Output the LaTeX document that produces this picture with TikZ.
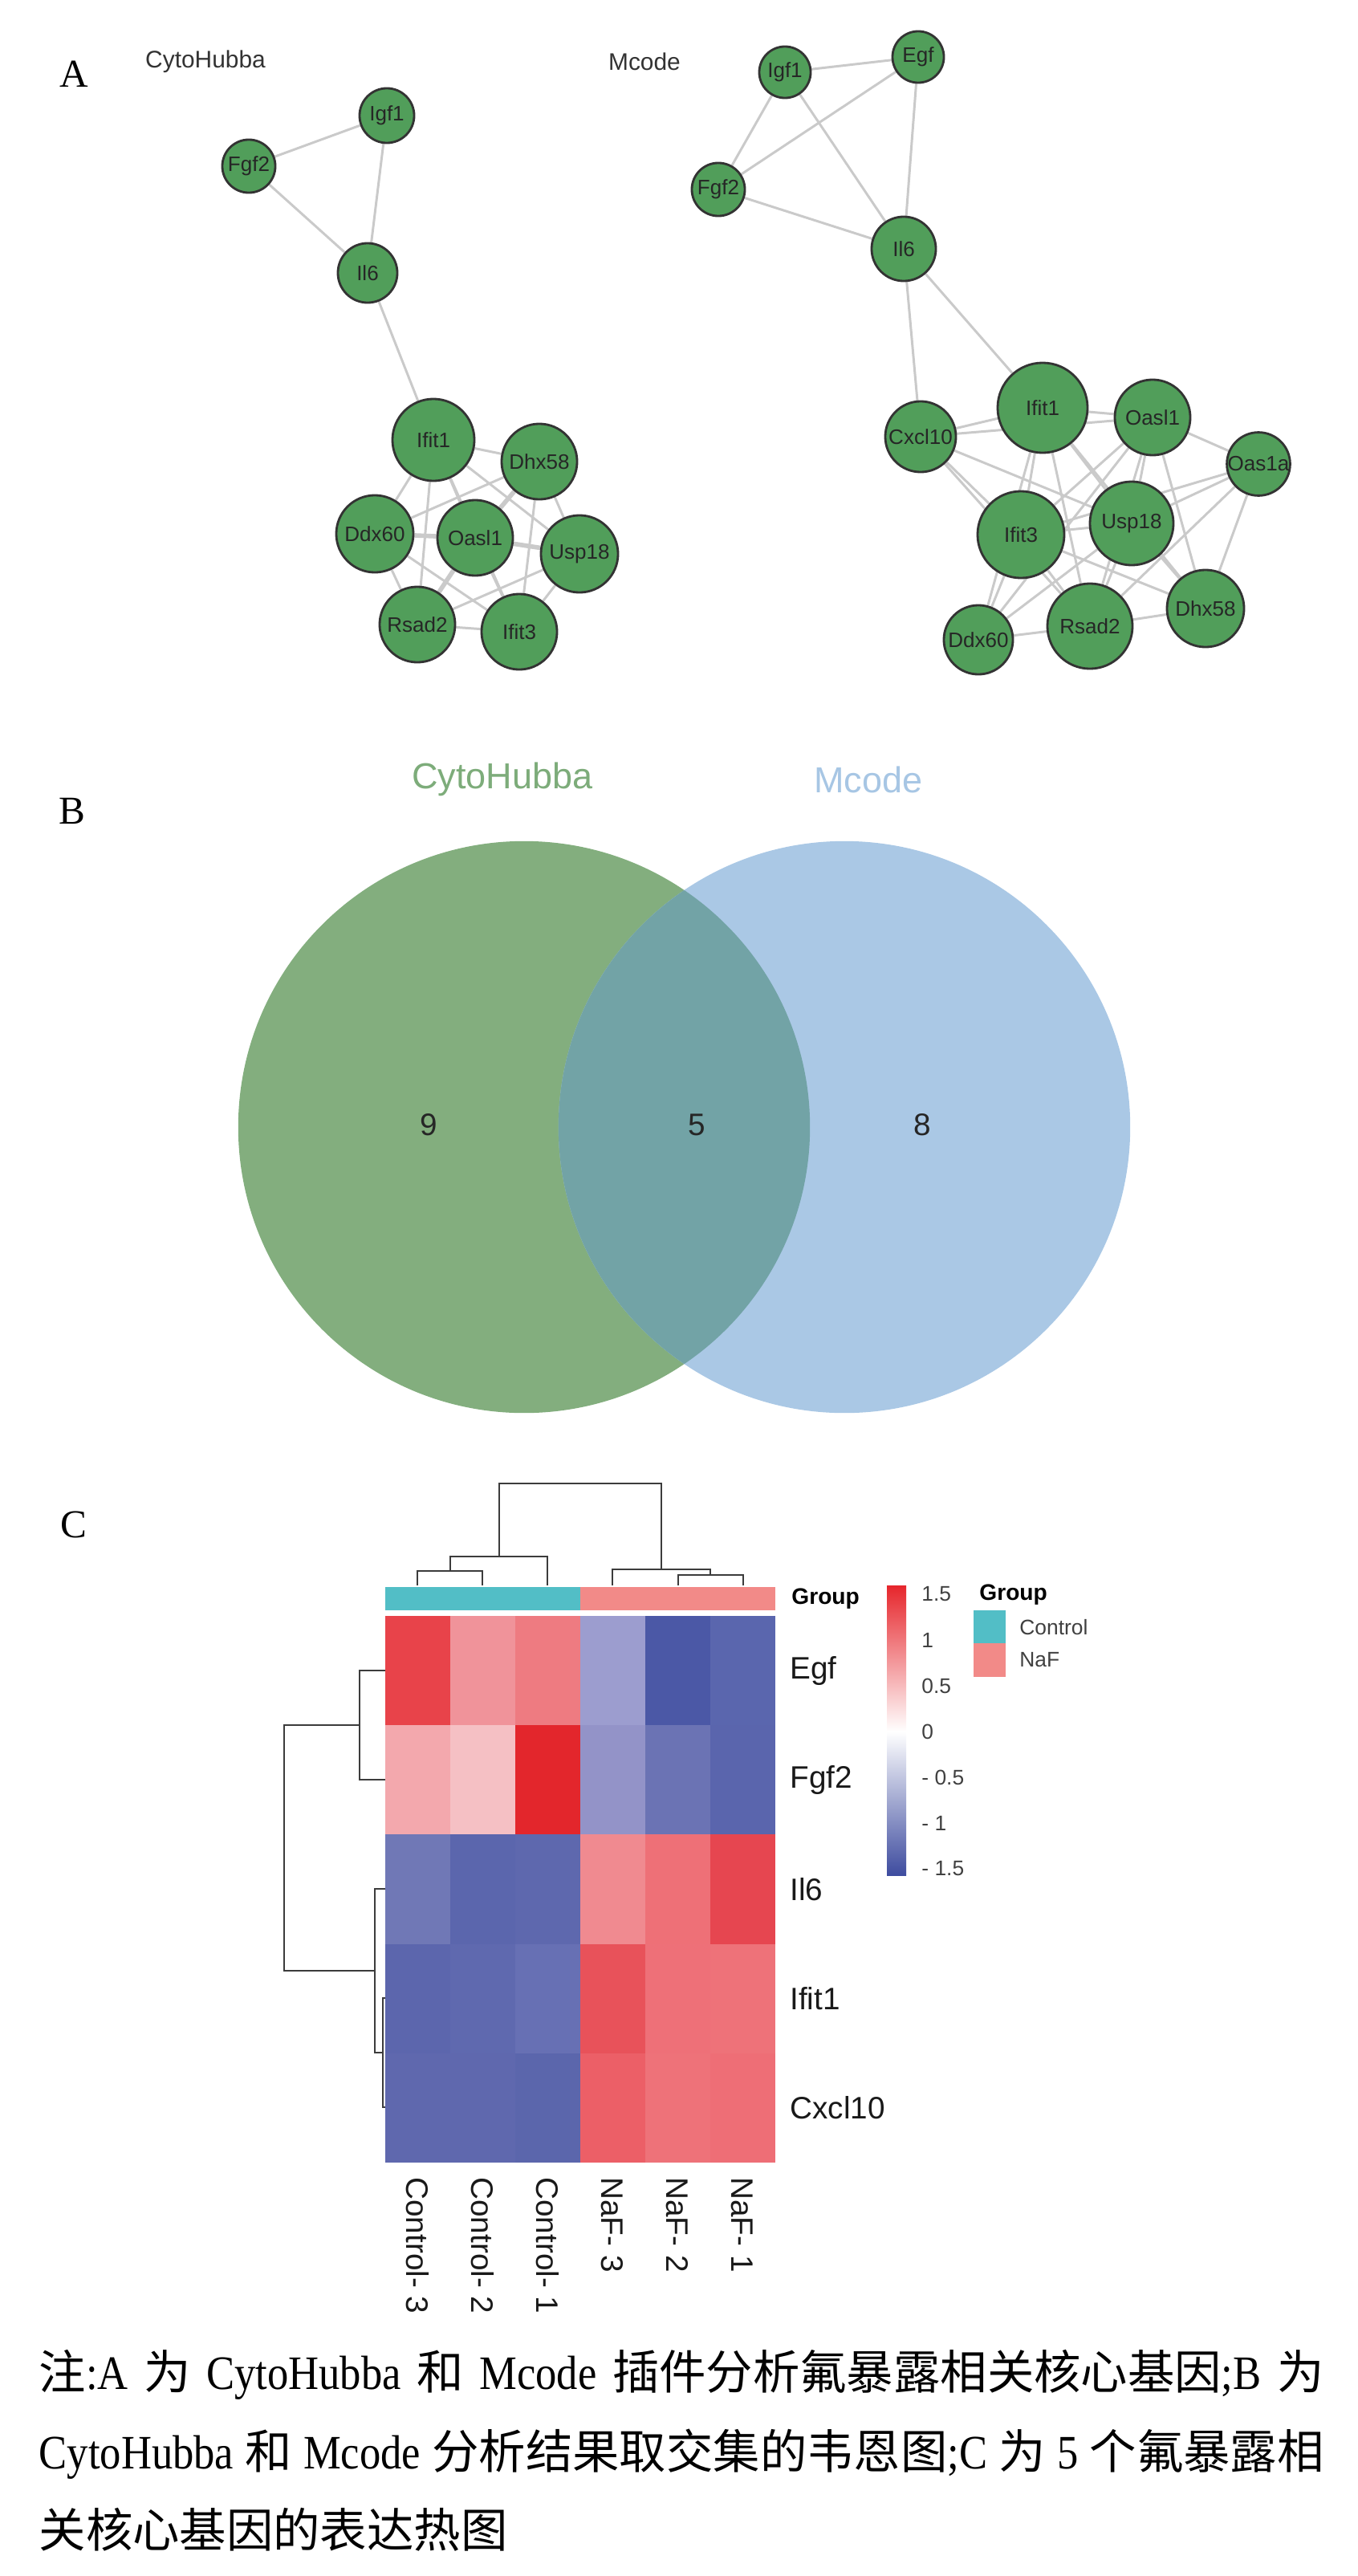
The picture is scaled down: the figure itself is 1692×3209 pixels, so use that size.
\documentclass[tikz,border=0pt]{standalone}
\usepackage{fontspec}
\setmainfont{Liberation Serif}
\setsansfont{Liberation Sans}
\newfontfamily\cjk{Noto Sans CJK SC}
\newfontfamily\capfont[FakeStretch=0.88]{Liberation Serif}
\usepackage{tikz}
\usetikzlibrary{backgrounds}
\definecolor{netgreen}{HTML}{519E5A}
\definecolor{netedge}{HTML}{CACACA}
\definecolor{venngreen}{HTML}{83AE7E}
\definecolor{vennblue}{HTML}{AAC8E5}
\definecolor{venncap}{HTML}{72A3A6}
\definecolor{vennlabg}{HTML}{7DAC7A}
\definecolor{vennlabb}{HTML}{A7C6E4}
\definecolor{grpctrl}{HTML}{52BEC6}
\definecolor{grpnaf}{HTML}{F28A88}
\definecolor{hmred}{HTML}{E6262C}
\definecolor{hmblue}{HTML}{3E4C9F}
\definecolor{dendro}{HTML}{3C3C3C}
\newcommand{\zh}[1]{{\cjk\fontsize{16.6}{17}\selectfont #1}}

\begin{document}
\begin{tikzpicture}[x=0.01cm, y=-0.01cm,
    gene/.style={circle, draw=black!80, line width=0.8pt, fill=netgreen, inner sep=0pt,
      font=\sffamily\fontsize{7.4}{8}\selectfont, text=black!85},
    link/.style={draw=netedge, line width=0.85pt},
    heavy/.style={draw=netedge, line width=1.6pt},
    panel/.style={font=\fontsize{14}{14}\selectfont},
    tree/.style={draw=dendro, line width=0.6pt},
    hmlab/.style={anchor=west, font=\sffamily\fontsize{11}{11}\selectfont, text=black!90},
    keylab/.style={anchor=west, font=\sffamily\fontsize{7.5}{8}\selectfont, text=black!75}]
  \useasboundingbox (0,0) rectangle (1692,3209);

  % panel letters
  \node[panel] (pA) at (92,92) {A};
  \node[panel] (pB) at (90,1010) {B};
  \node[panel] (pC) at (92,1899) {C};

  % A: CytoHubba network
  \node[font=\sffamily\fontsize{8.5}{9}\selectfont, text=black!80] (tCyto) at (256,77) {CytoHubba};
  \node[gene, minimum size=0.68cm] (cIgf1) at (482,144) {Igf1};
  \node[gene, minimum size=0.66cm] (cFgf2) at (310,207) {Fgf2};
  \node[gene, minimum size=0.74cm] (cIl6) at (458,340) {Il6};
  \node[gene, minimum size=1.02cm] (cIfit1) at (540,548) {Ifit1};
  \node[gene, minimum size=0.94cm] (cDhx58) at (672,575) {Dhx58};
  \node[gene, minimum size=0.96cm] (cDdx60) at (467,665) {Ddx60};
  \node[gene, minimum size=0.94cm] (cOasl1) at (592,670) {Oasl1};
  \node[gene, minimum size=0.96cm] (cUsp18) at (722,690) {Usp18};
  \node[gene, minimum size=0.94cm] (cRsad2) at (520,778) {Rsad2};
  \node[gene, minimum size=0.94cm] (cIfit3) at (647,787) {Ifit3};

  % A: Mcode network
  \node[font=\sffamily\fontsize{8.5}{9}\selectfont, text=black!80] (tMcode) at (803,77) {Mcode};
  \node[gene, minimum size=0.64cm] (mIgf1) at (978,90) {Igf1};
  \node[gene, minimum size=0.64cm] (mEgf) at (1144,71) {Egf};
  \node[gene, minimum size=0.66cm] (mFgf2) at (895,236) {Fgf2};
  \node[gene, minimum size=0.80cm] (mIl6) at (1126,310) {Il6};
  \node[gene, minimum size=0.88cm] (mCxcl10) at (1147,544) {Cxcl10};
  \node[gene, minimum size=1.12cm] (mIfit1) at (1299,508) {Ifit1};
  \node[gene, minimum size=0.94cm] (mOasl1) at (1436,520) {Oasl1};
  \node[gene, minimum size=0.78cm] (mOas1a) at (1568,578) {Oas1a};
  \node[gene, minimum size=1.08cm] (mIfit3) at (1272,666) {Ifit3};
  \node[gene, minimum size=1.04cm] (mUsp18) at (1410,652) {Usp18};
  \node[gene, minimum size=0.86cm] (mDdx60) at (1219,797) {Ddx60};
  \node[gene, minimum size=1.06cm] (mRsad2) at (1358,780) {Rsad2};
  \node[gene, minimum size=0.96cm] (mDhx58) at (1502,758) {Dhx58};

  \begin{scope}[on background layer]
    \foreach \a/\b in {cFgf2/cIgf1, cIgf1/cIl6, cFgf2/cIl6, cIl6/cIfit1,
        cIfit1/cDhx58, cIfit1/cDdx60, cIfit1/cOasl1, cIfit1/cUsp18, cIfit1/cRsad2,
        cIfit1/cIfit3, cDhx58/cDdx60, cDhx58/cUsp18, cDhx58/cIfit3, cDdx60/cRsad2,
        cDdx60/cIfit3, cOasl1/cIfit3, cUsp18/cRsad2, cUsp18/cIfit3, cRsad2/cIfit3}{
      \draw[link] (\a) -- (\b);
    }
    \foreach \a/\b in {cDdx60/cOasl1, cOasl1/cUsp18, cDhx58/cOasl1, cOasl1/cRsad2}{
      \draw[heavy] (\a) -- (\b);
    }
    \foreach \a/\b in {mIgf1/mEgf, mIgf1/mFgf2, mIgf1/mIl6, mEgf/mFgf2, mEgf/mIl6,
        mFgf2/mIl6, mIl6/mCxcl10, mIl6/mIfit1, mCxcl10/mIfit1, mCxcl10/mOasl1,
        mCxcl10/mIfit3, mCxcl10/mUsp18, mCxcl10/mRsad2, mIfit1/mOasl1, mIfit1/mIfit3,
        mIfit1/mDdx60, mIfit1/mRsad2, mIfit1/mUsp18, mIfit1/mDhx58, mOasl1/mOas1a,
        mOasl1/mIfit3, mOasl1/mDdx60, mOasl1/mUsp18, mOasl1/mRsad2, mOasl1/mDhx58,
        mOas1a/mUsp18, mOas1a/mIfit3, mOas1a/mDhx58, mOas1a/mRsad2, mIfit3/mUsp18,
        mIfit3/mDdx60, mIfit3/mRsad2, mIfit3/mDhx58, mUsp18/mDdx60, mUsp18/mRsad2,
        mUsp18/mDhx58, mDdx60/mRsad2, mRsad2/mDhx58}{
      \draw[link] (\a) -- (\b);
    }
  \end{scope}

  % B: venn
  \fill[venngreen] (653,1404) circle[radius=3.56cm];
  \fill[vennblue] (1052,1404) circle[radius=3.56cm];
  \begin{scope}
    \clip (653,1404) circle[radius=3.56cm];
    \fill[venncap] (1052,1404) circle[radius=3.56cm];
  \end{scope}
  \node[font=\sffamily\fontsize{12.8}{13}\selectfont, text=vennlabg] (vCyto) at (626,971) {CytoHubba};
  \node[font=\sffamily\fontsize{12.8}{13}\selectfont, text=vennlabb] (vMcode) at (1082,971) {Mcode};
  \foreach \x/\n in {534/9, 868/5, 1149/8}{
    \node[font=\sffamily\fontsize{11}{11}\selectfont, text=black!85] at (\x,1401) {\n};
  }

  % C: heatmap
  \fill[grpctrl] (480,1977) rectangle (723,2006);
  \fill[grpnaf] (723,1977) rectangle (966,2006);
  \node[anchor=west, font=\sffamily\bfseries\fontsize{8}{8}\selectfont] (gBar) at (974,1992) {Group};
  \foreach \cols [count=\r from 0] in {
      {E8434A,F0939A,EE7B81,9C9DCF,4B58A6,5A66AE},
      {F3A8AD,F5C0C4,E3262C,9393C8,6B73B4,5A65AD},
      {7078B6,5B66AD,5E68AE,F08A90,EE7077,E64650},
      {5C66AD,5F69AF,6770B4,E8525A,EE7078,EE7279},
      {5F68AE,5F68AE,5B66AC,EC5F67,EE7279,EE6E76}}{
    \foreach \hex [count=\c from 0] in \cols {
      \definecolor{cellc}{HTML}{\hex}
      \fill[cellc] (480+81*\c,2013+136.2*\r) rectangle ++(81,136.2);
    }
  }
  \foreach \g [count=\r from 0] in {Egf, Fgf2, Il6, Ifit1, Cxcl10}{
    \node[hmlab] (row\r) at (972,2081+136.2*\r) {\g};
  }
  \foreach \s [count=\c from 0] in {Control- 3, Control- 2, Control- 1, NaF- 3, NaF- 2, NaF- 1}{
    \node[hmlab, rotate=-90] (col\c) at (520+81*\c,2700) {\s};
  }
  % dendrograms
  \draw[tree] (520,1975) -- (520,1957) -- (601,1957) -- (601,1975);
  \draw[tree] (561,1957) -- (561,1939) -- (682,1939) -- (682,1975);
  \draw[tree] (845,1975) -- (845,1962) -- (926,1962) -- (926,1975);
  \draw[tree] (885,1962) -- (885,1955) -- (763,1955) -- (763,1975);
  \draw[tree] (622,1939) -- (622,1848) -- (824,1848) -- (824,1955);
  \draw[tree] (480,2081) -- (448,2081) -- (448,2217) -- (480,2217);
  \draw[tree] (480,2489) -- (477,2489) -- (477,2625) -- (480,2625);
  \draw[tree] (480,2353) -- (467,2353) -- (467,2557) -- (477,2557);
  \draw[tree] (448,2149) -- (354,2149) -- (354,2455) -- (467,2455);

  % colour key
  \shade[top color=hmred, bottom color=white] (1105,1975) rectangle (1129,2157);
  \shade[top color=white, bottom color=hmblue] (1105,2157) rectangle (1129,2336);
  \foreach \v/\t in {1.5/1.5, 1/1, 0.5/0.5, 0/0, -0.5/- 0.5, -1/- 1, -1.5/- 1.5}{
    \node[keylab] at (1136,2157-114*\v) {\t};
  }
  \node[anchor=west, font=\sffamily\bfseries\fontsize{8}{8}\selectfont] (lgTitle) at (1208,1987) {Group};
  \fill[grpctrl] (1213,2006) rectangle (1253,2047);
  \fill[grpnaf] (1213,2047) rectangle (1253,2089);
  \node[keylab] (lgCtrl) at (1258,2027) {Control};
  \node[keylab] (lgNaF) at (1258,2068) {NaF};

  % caption
  \begin{scope}[every node/.style={anchor=west, inner sep=0pt, font=\capfont\fontsize{17}{17}\selectfont}]
    \node (cap1) at (48,2958) {\makebox[16cm][s]{\zh{注}:A \zh{为} CytoHubba \zh{和} Mcode \zh{插件分析氟暴露相关核心基因};B \zh{为}}};
    \node (cap2) at (48,3057) {\makebox[16cm][s]{CytoHubba \zh{和} Mcode \zh{分析结果取交集的韦恩图};C \zh{为} 5 \zh{个氟暴露相}}};
    \node (cap3) at (48,3151) {\zh{关核心基因的表达热图}};
  \end{scope}
\end{tikzpicture}
\end{document}
